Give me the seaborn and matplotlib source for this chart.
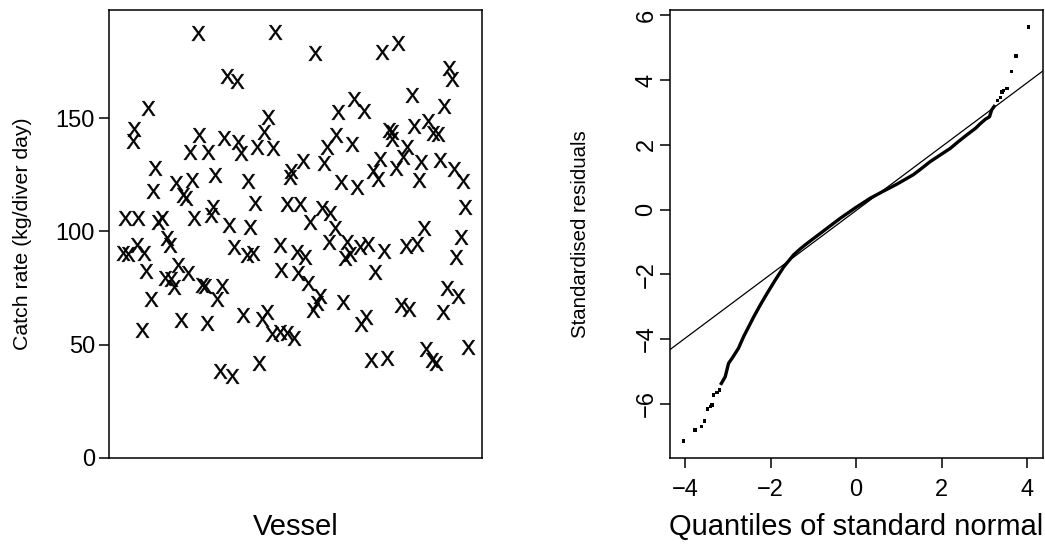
import matplotlib
matplotlib.use("Agg")
import matplotlib.pyplot as plt
import seaborn as sns
import pandas as pd
from matplotlib.textpath import TextPath
from matplotlib.font_manager import FontProperties
from matplotlib.path import Path

# ---- Catch rate per vessel ------------------------------------------------
vessel = [
    24.0, 44.8, 31.9, 34.4, 10.8, 42.9, 7.0, 6.6, 24.4, 31.1, 41.8, 21.9, 26.8,
    34.8, 35.6, 39.8, 44.2, 12.6, 28.6, 37.4, 12.1, 18.1, 22.5, 20.1, 20.9, 39.3,
    47.8, 28.2, 48.9, 48.7,
    4.7, 8.1, 13.4, 14.4, 23.1, 27.5, 32.4, 38.0, 15.7, 16.6, 4.1, 5.4, 7.7, 9.7,
    33.8, 37.1, 38.9, 46.0, 10.2, 18.8, 21.3, 15.2, 17.0, 17.6, 46.4, 25.1, 25.9,
    30.6, 29.3, 11.5, 19.5, 26.4, 36.2, 41.1, 42.4, 9.0, 43.8, 46.0, 47.8, 49.8,
    40.4, 29.9, 33.1,
    55.3, 73.3, 77.6, 91.2, 91.9, 81.2, 65.9, 68.4, 61.4, 89.9, 85.6, 81.9, 75.2,
    75.9, 75.9, 87.0, 88.3, 61.0, 58.5, 65.2, 80.0, 79.0, 52.2, 57.8, 72.7, 83.7,
    88.8, 76.9, 70.8, 72.1, 92.5, 95.0, 62.3, 66.5, 83.2, 51.3, 57.3, 59.4, 95.5,
    60.7, 54.0, 84.6, 94.4, 59.2, 64.0, 64.7, 63.4, 67.4, 69.6, 73.8, 79.6, 82.5,
    50.5, 52.7, 93.0, 71.4, 50.9, 53.6, 56.7, 55.8, 54.9, 62.8, 69.0, 67.6, 78.3,
    80.6, 90.7, 93.7, 89.5, 96.2, 70.3, 74.5, 85.0, 86.6, 87.6,
]
catch_rate = [
    187.4, 187.9, 168.7, 166.5, 154.3, 150.3, 145.1, 140.0, 142.5, 141.1, 144.0,
    134.9, 134.9, 139.3, 134.5, 137.4, 136.9, 127.8, 124.9, 122.2, 117.8, 121.2,
    122.7, 116.1, 114.7, 112.7, 112.0, 110.9, 126.7, 124.1,
    105.8, 105.8, 104.3, 106.0, 105.8, 107.2, 102.8, 102.1, 97.2, 94.0, 90.3, 89.9,
    94.0, 90.3, 93.0, 89.6, 90.3, 94.0, 82.5, 85.2, 81.5, 79.6, 79.0, 75.6, 83.0,
    76.3, 75.9, 75.9, 70.0, 70.0, 60.9, 59.7, 63.1, 61.2, 64.3, 56.5, 54.6, 55.7,
    55.0, 52.8, 41.8, 38.5, 36.2,
    178.6, 179.3, 183.0, 172.0, 167.3, 160.2, 158.4, 153.3, 152.6, 155.3, 148.7,
    146.5, 144.7, 143.7, 140.8, 143.3, 142.8, 142.5, 137.1, 138.4, 137.1, 133.0,
    131.2, 130.1, 131.9, 130.8, 131.5, 128.1, 126.7, 123.0, 127.5, 122.4, 121.9,
    119.7, 122.7, 112.0, 110.5, 108.0, 110.9,
    101.4, 104.0, 101.4, 97.4, 95.5, 95.5, 89.9, 88.1, 93.0, 94.3, 91.5, 93.7,
    94.4, 91.0, 88.8, 88.6, 81.9, 81.5, 77.1, 71.6, 68.3, 65.3, 69.0, 62.1, 59.0,
    67.5, 65.8, 75.2, 71.6, 64.3, 49.1, 43.2, 44.0, 48.1, 43.2, 41.8,
]
catch_ticks = [0, 50, 100, 150]

# ---- Normal QQ plot of standardised residuals -----------------------------
# dense central body of the QQ plot
qq_body_theoretical = [
    -3.17, -3.06, -2.98, -2.90, -2.75, -2.63, -2.51, -2.39, -2.24, -2.08, -1.89,
    -1.69, -1.46, -1.30, -1.15, -0.99, -0.68, -0.37, -0.01, 0.33, 0.64, 0.96,
    1.34, 1.50, 1.73, 1.97, 2.20, 2.39, 2.59, 2.79, 2.90, 3.02, 3.12, 3.17, 3.25,
]
qq_body_residual = [
    -5.42, -5.17, -4.75, -4.60, -4.29, -3.93, -3.62, -3.31, -2.95, -2.59, -2.18,
    -1.77, -1.40, -1.21, -1.05, -0.89, -0.58, -0.27, 0.06, 0.35, 0.57, 0.79,
    1.08, 1.24, 1.48, 1.69, 1.89, 2.10, 2.31, 2.51, 2.65, 2.79, 2.87, 3.08, 3.23,
]
# isolated extreme residuals in both tails
qq_tail_theoretical = [
    -4.03, -3.77, -3.62, -3.54, -3.48, -3.41, -3.37, -3.34, -3.25, -3.19,
    3.31, 3.37, 3.41, 3.45, 3.53, 3.63, 3.74, 4.03,
]
qq_tail_residual = [
    -7.15, -6.82, -6.70, -6.54, -6.17, -6.09, -6.04, -5.73, -5.66, -5.58,
    3.37, 3.47, 3.63, 3.68, 3.75, 4.26, 4.75, 5.65,
]
qqline_intercept = -0.03
qqline_slope = 0.988
qq_xticks = [-4, -2, 0, 2, 4]
qq_yticks = [-6, -4, -2, 0, 2, 4, 6]

# ---- Style -----------------------------------------------------------------
sns.set_style("ticks")
plt.rcParams["font.family"] = ["Liberation Sans", "DejaVu Sans"]
plt.rcParams.update({
    "text.color": "black",
    "axes.labelcolor": "black",
    "axes.edgecolor": "black",
    "axes.linewidth": 1.1,
    "xtick.color": "black",
    "ytick.color": "black",
    "xtick.labelcolor": "black",
    "ytick.labelcolor": "black",
    "xtick.major.width": 1.1,
    "ytick.major.width": 1.1,
    "xtick.major.size": 7,
    "ytick.major.size": 7,
    "xtick.labelsize": 17,
    "ytick.labelsize": 17,
})

# an upright sans-serif "X" glyph used as the plotting symbol
fp = FontProperties(family="Liberation Sans")
tp = TextPath((0, 0), "X", size=1, prop=fp)
bb = tp.get_extents()
verts = tp.vertices.copy()
verts[:, 0] -= (bb.x0 + bb.x1) / 2
verts[:, 1] -= (bb.y0 + bb.y1) / 2
x_glyph = Path(verts, tp.codes)

W, H = 1045, 547
fig = plt.figure(figsize=(W / 100, H / 100), dpi=100)
box_l = (109, 10, 373, 448)   # left, top, width, height in pixels
box_r = (670, 10, 373, 448)


def add_box(b):
    l, t, w, h = b
    return fig.add_axes([l / W, 1 - (t + h) / H, w / W, h / H])


ax1 = add_box(box_l)
ax2 = add_box(box_r)

# ---- Left: catch rate by vessel -------------------------------------------
catch_df = pd.DataFrame({"vessel": vessel, "catch": catch_rate})
sns.scatterplot(data=catch_df, x="vessel", y="catch", ax=ax1, marker=x_glyph,
                s=112, color="black", edgecolor="black", linewidth=0.35,
                legend=False)
ax1.set_xlim(0.3, 100)
ax1.set_ylim(0, 197.7)
ax1.set_xticks([])
ax1.set_yticks(catch_ticks)
ax1.tick_params(axis="y", pad=3)
ax1.set_xlabel("Vessel", fontsize=21, va="center")
ax1.set_ylabel("Catch rate (kg/diver day)", fontsize=15.3, va="center")
ax1.xaxis.set_label_coords(0.5, -0.154)
ax1.yaxis.set_label_coords(-0.233, 0.5)

# ---- Right: QQ plot --------------------------------------------------------
body_df = pd.DataFrame({"q": qq_body_theoretical, "r": qq_body_residual})
tail_df = pd.DataFrame({"q": qq_tail_theoretical, "r": qq_tail_residual})
sns.lineplot(data=body_df, x="q", y="r", ax=ax2, sort=False, estimator=None,
             color="black", linewidth=2.4, solid_capstyle="butt")
sns.scatterplot(data=tail_df, x="q", y="r", ax=ax2, marker="s", s=6,
                color="black", edgecolor="none", linewidth=0, legend=False)
ax2.axline((0, qqline_intercept), slope=qqline_slope, color="black",
           linewidth=0.9)
ax2.set_xlim(-4.35, 4.37)
ax2.set_ylim(-7.68, 6.17)
ax2.set_xticks(qq_xticks)
ax2.set_yticks(qq_yticks)
ax2.tick_params(axis="x", pad=8)
ax2.tick_params(axis="y", pad=2)
for lab in ax2.get_yticklabels():
    lab.set_rotation(90)
    lab.set_va("center")
ax2.set_xlabel("Quantiles of standard normal", fontsize=21, va="center")
ax2.set_ylabel("Standardised residuals", fontsize=14.7, va="center")
ax2.xaxis.set_label_coords(0.5, -0.154)
ax2.yaxis.set_label_coords(-0.241, 0.5)

for ax in (ax1, ax2):
    for sp in ax.spines.values():
        sp.set_visible(True)

fig.savefig("out.png", dpi=100)
